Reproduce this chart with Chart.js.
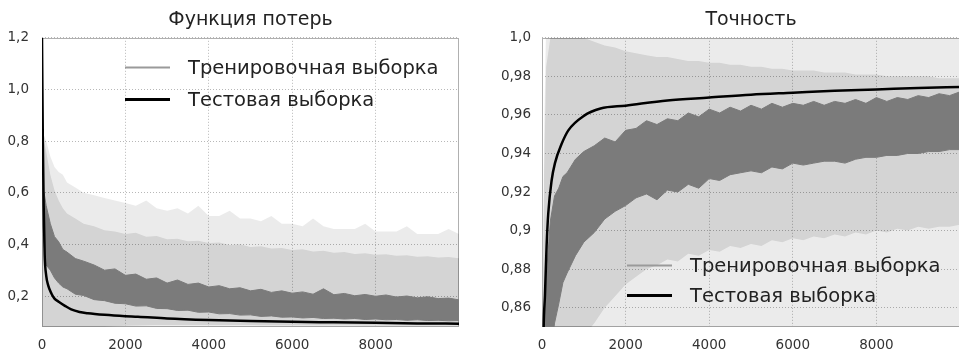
<!DOCTYPE html>
<html lang="ru">
<head>
<meta charset="utf-8">
<script src="https://cdn.jsdelivr.net/npm/chart.js@4.4.1/dist/chart.umd.min.js"></script>
<style>
  html, body { margin: 0; padding: 0; background: #fff; overflow: hidden; }
  #wrap { position: relative; width: 959px; height: 354px; overflow: hidden; }
  #lossChart { position: absolute; left: 0; top: 0; }
  #accChart { position: absolute; left: 480px; top: 0; }
</style>
</head>
<body>
<div id="wrap">
  <canvas id="lossChart" width="480" height="354"></canvas>
  <canvas id="accChart" width="500" height="354"></canvas>
</div>
<script>
const lossTitle = 'Функция потерь';
const accTitle = 'Точность';
const trainLabel = 'Тренировочная выборка';
const testLabel = 'Тестовая выборка';

const trainX = [0, 50, 100, 200, 300, 400, 500, 600, 800, 1000, 1250, 1500, 1750, 2000, 2250, 2500, 2750,
  3000, 3250, 3500, 3750, 4000, 4250, 4500, 4750, 5000, 5250, 5500, 5750, 6000, 6250, 6500, 6750,
  7000, 7250, 7500, 7750, 8000, 8250, 8500, 8750, 9000, 9250, 9500, 9750, 10000];

// loss: training band (dark core, dense light spread, pale outer spikes)
const lossDarkHi = [0.62, 0.60, 0.55, 0.48, 0.43, 0.41, 0.38, 0.37, 0.345, 0.335, 0.32, 0.30, 0.305, 0.28, 0.285, 0.265,
  0.27, 0.25, 0.262, 0.245, 0.25, 0.235, 0.24, 0.228, 0.232, 0.22, 0.226, 0.214, 0.22, 0.211, 0.216, 0.207,
  0.228, 0.205, 0.21, 0.201, 0.206, 0.199, 0.204, 0.196, 0.2, 0.193, 0.197, 0.19, 0.192, 0.185];
const lossDarkLo = [0.50, 0.40, 0.32, 0.30, 0.27, 0.25, 0.235, 0.228, 0.207, 0.202, 0.186, 0.182, 0.172, 0.170, 0.161, 0.162,
  0.152, 0.151, 0.144, 0.145, 0.137, 0.138, 0.131, 0.132, 0.126, 0.127, 0.121, 0.123, 0.118, 0.119, 0.115, 0.117,
  0.113, 0.114, 0.111, 0.113, 0.109, 0.111, 0.108, 0.109, 0.106, 0.108, 0.105, 0.106, 0.104, 0.105];
const lossLightHi = [0.80, 0.80, 0.76, 0.67, 0.61, 0.57, 0.54, 0.52, 0.50, 0.48, 0.47, 0.455, 0.45, 0.44, 0.445, 0.43,
  0.432, 0.42, 0.422, 0.412, 0.414, 0.405, 0.407, 0.398, 0.40, 0.39, 0.393, 0.384, 0.386, 0.378, 0.381, 0.372,
  0.375, 0.368, 0.37, 0.363, 0.366, 0.36, 0.362, 0.356, 0.358, 0.352, 0.354, 0.349, 0.351, 0.346];
const lossLightLo = [0.07, 0.07, 0.07, 0.07, 0.07, 0.07, 0.07, 0.07, 0.07, 0.07, 0.075, 0.08, 0.083, 0.085, 0.086, 0.087,
  0.088, 0.088, 0.088, 0.088, 0.088, 0.088, 0.088, 0.088, 0.088, 0.088, 0.087, 0.087, 0.087, 0.087, 0.087, 0.087,
  0.087, 0.087, 0.087, 0.087, 0.086, 0.086, 0.086, 0.086, 0.086, 0.086, 0.086, 0.086, 0.086, 0.086];
const lossPaleHi = [0.80, 0.82, 0.80, 0.74, 0.70, 0.68, 0.67, 0.64, 0.62, 0.60, 0.59, 0.58, 0.57, 0.56, 0.55, 0.57,
  0.54, 0.53, 0.54, 0.52, 0.55, 0.51, 0.51, 0.53, 0.50, 0.50, 0.49, 0.51, 0.48, 0.48, 0.47, 0.50,
  0.47, 0.46, 0.46, 0.46, 0.48, 0.45, 0.45, 0.45, 0.47, 0.44, 0.44, 0.44, 0.46, 0.44];

// loss: test set
const testLossX = [0, 20, 40, 64, 100, 150, 225, 300, 400, 550, 700, 900, 1100, 1500, 2000, 2300, 3000,
  4000, 5000, 6000, 7000, 8000, 9000, 10000];
const testLoss = [1.2, 0.8, 0.55, 0.36, 0.28, 0.24, 0.21, 0.19, 0.178, 0.162, 0.148, 0.138, 0.133, 0.127, 0.122, 0.12, 0.113,
  0.107, 0.103, 0.1, 0.098, 0.096, 0.094, 0.093];

// accuracy: training band
const accDarkHi = [0.80, 0.85, 0.875, 0.905, 0.918, 0.922, 0.928, 0.930, 0.937, 0.941, 0.944, 0.948, 0.946, 0.952, 0.953, 0.957,
  0.955, 0.958, 0.957, 0.961, 0.959, 0.963, 0.961, 0.964, 0.962, 0.965, 0.963, 0.966, 0.964, 0.966, 0.965, 0.967,
  0.965, 0.967, 0.966, 0.968, 0.966, 0.969, 0.967, 0.969, 0.968, 0.970, 0.969, 0.971, 0.970, 0.972];
const accDarkLo = [0.78, 0.80, 0.82, 0.835, 0.852, 0.862, 0.873, 0.878, 0.887, 0.894, 0.899, 0.906, 0.91, 0.913, 0.917, 0.919,
  0.916, 0.921, 0.92, 0.924, 0.922, 0.927, 0.926, 0.929, 0.93, 0.931, 0.93, 0.933, 0.932, 0.935, 0.934, 0.935,
  0.936, 0.936, 0.935, 0.937, 0.938, 0.938, 0.939, 0.939, 0.94, 0.94, 0.941, 0.941, 0.942, 0.942];
const accLightHi = [0.82, 0.93, 0.985, 1.0, 1.0, 1.0, 1.0, 1.0, 1.0, 1.0, 0.998, 0.996, 0.995, 0.993, 0.992, 0.991,
  0.99, 0.99, 0.989, 0.988, 0.988, 0.987, 0.987, 0.986, 0.986, 0.985, 0.985, 0.984, 0.984, 0.983, 0.983, 0.983,
  0.982, 0.982, 0.982, 0.981, 0.981, 0.981, 0.98, 0.98, 0.98, 0.98, 0.98, 0.979, 0.979, 0.979];
const accLightLo = [0.84, 0.84, 0.84, 0.84, 0.84, 0.84, 0.84, 0.84, 0.84, 0.845, 0.852, 0.86, 0.866, 0.872, 0.876, 0.88,
  0.882, 0.885, 0.884, 0.888, 0.887, 0.89, 0.889, 0.892, 0.891, 0.893, 0.892, 0.895, 0.894, 0.896, 0.895, 0.897,
  0.896, 0.898, 0.897, 0.899, 0.898, 0.90, 0.899, 0.901, 0.90, 0.902, 0.901, 0.902, 0.902, 0.903];
const accPaleHi = [0.84, 0.95, 1.01, 1.01, 1.01, 1.01, 1.01, 1.01, 1.01, 1.01, 1.01, 1.01, 1.01, 1.01, 1.01, 1.01,
  1.01, 1.01, 1.01, 1.01, 1.01, 1.01, 1.01, 1.01, 1.01, 1.01, 1.01, 1.01, 1.01, 1.01, 1.01, 1.01,
  1.01, 1.01, 1.01, 1.01, 1.01, 1.01, 1.01, 1.01, 1.01, 1.01, 1.01, 1.01, 1.01, 1.01];

// accuracy: test set
const testAccX = [0, 40, 70, 110, 150, 230, 310, 470, 630, 1000, 1400, 2000, 3000, 4000, 5000, 6000, 7000, 8000, 9000, 10000];
const testAcc = [0.78, 0.85, 0.866, 0.892, 0.909, 0.926, 0.935, 0.945, 0.952, 0.9595, 0.9633, 0.9648, 0.9675, 0.969, 0.9705,
  0.9715, 0.9725, 0.9732, 0.974, 0.9745];

// axis ticks
const stepTicks = [0, 2000, 4000, 6000, 8000];
const lossTicks = [0.2, 0.4, 0.6, 0.8, 1.0, 1.2];
const lossTickLabels = ['0,2', '0,4', '0,6', '0,8', '1,0', '1,2'];
const accTicks = [0.86, 0.88, 0.9, 0.92, 0.94, 0.96, 0.98, 1.0];
const accTickLabels = ['0,86', '0,88', '0,9', '0,92', '0,94', '0,96', '0,98', '1,0'];

const PALE = 'rgba(0,0,0,0.08)';
const LIGHT = 'rgba(0,0,0,0.10)';
const DARK = '#7b7b7b';
const GRID = '#b8b8b8';

Chart.defaults.font.family = '"DejaVu Sans", sans-serif';

const pts = (xs, ys) => xs.map((x, i) => ({ x, y: ys[i] }));

// plot frame round the chart area
const frame = {
  id: 'frame',
  beforeDatasetsDraw(chart) {
    const { ctx, chartArea: a } = chart;
    ctx.save();
    ctx.strokeStyle = '#b0b0b0';
    ctx.lineWidth = 1;
    ctx.strokeRect(Math.round(a.left) + 0.5, Math.round(a.top) + 0.5,
      Math.round(a.right - a.left) - 1, Math.round(a.bottom - a.top) - 1);
    ctx.restore();
  }
};

// legend placed inside the plot
const legendBox = {
  id: 'legendBox',
  afterDraw(chart, args, opts) {
    const { ctx, chartArea } = chart;
    ctx.save();
    ctx.font = opts.size + 'px "DejaVu Sans"';
    ctx.textBaseline = 'middle';
    opts.items.forEach((it, i) => {
      const x = chartArea.left + opts.x;
      const y = Math.round(chartArea.top + opts.y + i * opts.gap) + 0.5;
      ctx.strokeStyle = it.color;
      ctx.lineWidth = it.width;
      ctx.beginPath();
      ctx.moveTo(x, y);
      ctx.lineTo(x + 45, y);
      ctx.stroke();
      ctx.fillStyle = '#222';
      ctx.fillText(it.text, x + 63, y + 1);
    });
    ctx.restore();
  }
};

function makeChart(id, p) {
  const datasets = [
    { data: pts(trainX, p.paleHi), fill: 'start', backgroundColor: PALE, borderWidth: 0, order: 4 },
    { data: pts(trainX, p.lightLo), fill: false, borderWidth: 0, order: 3 },
    { data: pts(trainX, p.lightHi), fill: 1, backgroundColor: LIGHT, borderWidth: 0, order: 3 },
    { data: pts(trainX, p.darkLo), fill: false, borderColor: DARK, borderWidth: 1, order: 2 },
    { label: trainLabel, data: pts(trainX, p.darkHi), fill: 3, backgroundColor: DARK, borderColor: DARK, borderWidth: 1, order: 2 },
    { label: testLabel, data: pts(p.testX, p.test), fill: false, borderColor: '#000', borderWidth: 2.5,
      cubicInterpolationMode: 'monotone', order: 1 }
  ];

  return new Chart(document.getElementById(id), {
    type: 'line',
    data: { datasets },
    plugins: [frame, legendBox],
    options: {
      responsive: false,
      animation: false,
      events: [],
      elements: { point: { radius: 0 }, line: { tension: 0 } },
      layout: { padding: { left: 0, right: p.padRight, top: 0, bottom: 0 } },
      plugins: {
        legend: { display: false },
        tooltip: { enabled: false },
        title: {
          display: true,
          text: p.title,
          fullSize: false,
          color: '#222',
          font: { size: 19, weight: 'normal' },
          padding: { top: 9, bottom: 6 }
        },
        legendBox: {
          x: p.legend.x, y: p.legend.y, gap: p.legend.gap, size: 19.5,
          items: [
            { text: trainLabel, color: '#9a9a9a', width: 2 },
            { text: testLabel, color: '#000', width: 3 }
          ]
        }
      },
      scales: {
        x: {
          type: 'linear',
          min: 0,
          max: 10000,
          afterBuildTicks: s => { s.ticks = stepTicks.map(v => ({ value: v })); },
          afterFit: s => { s.height = 27; },
          grid: { color: GRID, drawTicks: false },
          border: { display: false, dash: [1, 2] },
          ticks: { color: '#333', font: { size: 13.5 }, padding: 10, maxRotation: 0, callback: v => String(v) }
        },
        y: {
          min: p.yMin,
          max: p.yMax,
          afterBuildTicks: s => { s.ticks = p.ticks.map(v => ({ value: v })); },
          afterFit: s => { s.width = p.axisWidth; },
          grid: { color: GRID, drawTicks: false },
          border: { display: false, dash: [1, 2] },
          ticks: { color: '#333', font: { size: 13.5 }, padding: p.tickPad, callback: (v, i) => p.tickLabels[i] }
        }
      }
    }
  });
}

makeChart('lossChart', {
  title: lossTitle,
  paleHi: lossPaleHi, lightLo: lossLightLo, lightHi: lossLightHi, darkLo: lossDarkLo, darkHi: lossDarkHi,
  testX: testLossX, test: testLoss,
  yMin: 0.08, yMax: 1.2, ticks: lossTicks, tickLabels: lossTickLabels,
  axisWidth: 42, tickPad: 13, padRight: 21,
  legend: { x: 83, y: 29, gap: 32 }
});

makeChart('accChart', {
  title: accTitle,
  paleHi: accPaleHi, lightLo: accLightLo, lightHi: accLightHi, darkLo: accDarkLo, darkHi: accDarkHi,
  testX: testAccX, test: testAcc,
  yMin: 0.85, yMax: 1.0, ticks: accTicks, tickLabels: accTickLabels,
  axisWidth: 62, tickPad: 11, padRight: 20,
  legend: { x: 85, y: 227, gap: 30 }
});
</script>
</body>
</html>
